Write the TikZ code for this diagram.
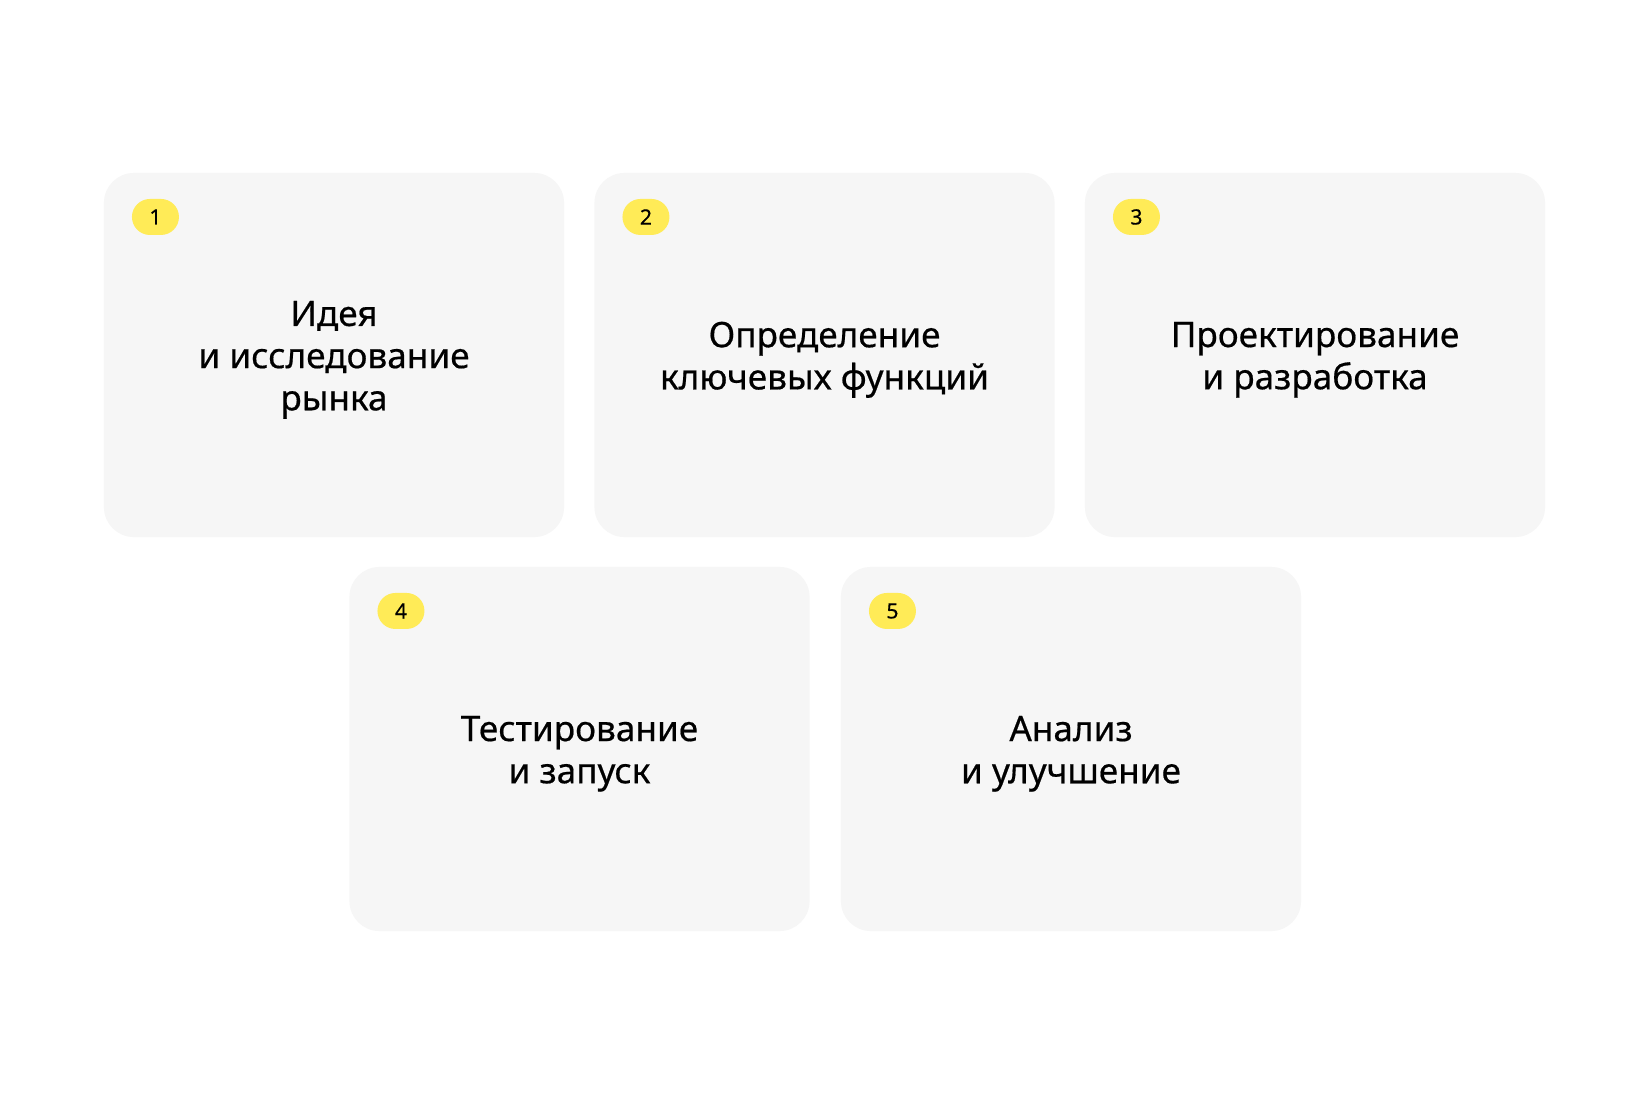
\documentclass[tikz,border=0pt]{standalone}
\usepackage{fontspec}
\setmainfont{Noto Sans}
\newfontfamily\cardfont[FakeBold=0.5]{Noto Sans}
\usetikzlibrary{positioning}
\definecolor{cardgray}{HTML}{F6F6F6}
\definecolor{badgeyellow}{HTML}{FFEB57}

\begin{document}
\begin{tikzpicture}
    [
    x=0.025cm, y=-0.025cm,
    card/.style={rectangle,rounded corners=0.75cm,fill=cardgray,inner sep=0pt,minimum width=11.5cm,minimum height=9.1cm},
    caption/.style={align=center,yshift=-0.12cm,font=\cardfont\fontsize{25}{30}\selectfont},
    badge/.style={rectangle,rounded corners=0.45cm,fill=badgeyellow,inner sep=0pt,minimum width=1.175cm,minimum height=0.9cm,font=\cardfont\fontsize{15}{16}\selectfont}
    ]
    \useasboundingbox [fill=white] (0,0) rectangle (1651,1105);
    \node (1) at (334,355) [card] {};
    \node (2) at (824.5,355) [card] {};
    \node (3) at (1315,355) [card] {};
    \node (4) at (579.5,749) [card] {};
    \node (5) at (1071,749) [card] {};
    \node (b1) [badge, below right=0.65cm and 0.7cm of 1.north west] {1};
    \node (b2) [badge, below right=0.65cm and 0.7cm of 2.north west] {2};
    \node (b3) [badge, below right=0.65cm and 0.7cm of 3.north west] {3};
    \node (b4) [badge, below right=0.65cm and 0.7cm of 4.north west] {4};
    \node (b5) [badge, below right=0.65cm and 0.7cm of 5.north west] {5};
    \node (t1) at (1) [caption] {Идея\\и исследование\\рынка};
    \node (t2) at (2) [caption] {Определение\\ключевых функций};
    \node (t3) at (3) [caption] {Проектирование\\и разработка};
    \node (t4) at (4) [caption] {Тестирование\\и запуск};
    \node (t5) at (5) [caption] {Анализ\\и улучшение};
  \end{tikzpicture}
\end{document}
